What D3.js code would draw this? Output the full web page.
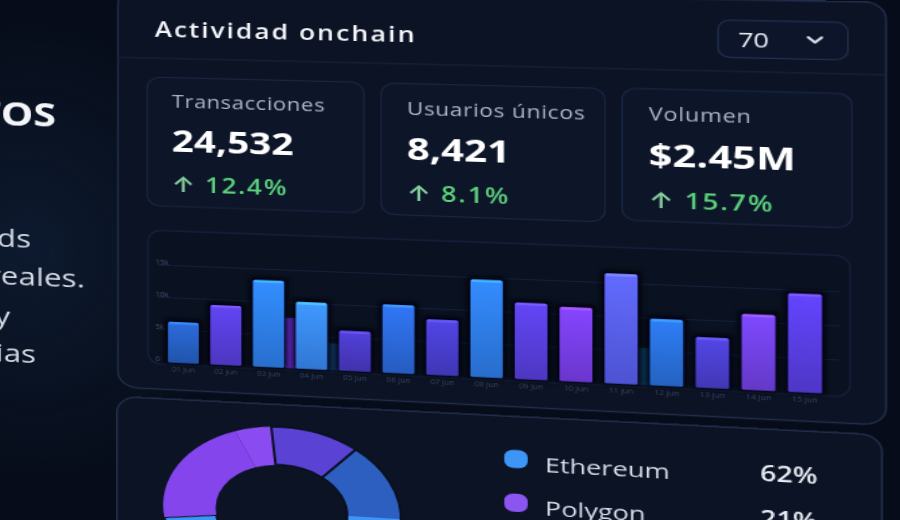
<!DOCTYPE html>
<html><head><meta charset="utf-8">
<script src="https://cdn.jsdelivr.net/npm/d3@7"></script>
<style>
html,body{margin:0;padding:0;background:#060c19;overflow:hidden;width:900px;height:520px;font-family:"Open Sans",Inter,sans-serif;}
#wrap{position:absolute;left:0;top:0;width:692px;height:520px;transform-origin:0 0;}
#stage{position:absolute;left:0;top:0;width:692px;height:520px;}
#board{position:absolute;left:0;top:0;width:692px;height:520px;}
svg{overflow:visible;display:block;}
</style></head><body>
<div id="wrap"><div id="stage"><div id="board"></div></div></div>
<script>
// ---------- data ----------
const categorias = ["01 jun","02 jun","03 jun","04 jun","05 jun","06 jun","07 jun","08 jun","09 jun","10 jun","11 jun","12 jun","13 jun","14 jun","15 jun"];
const transacciones = [6300, 9200, 13300, 10200, 6100, 10400, 8400, 14700, 11500, 11100, 16400, 9900, 7500, 11200, 14500];
const previo = [null, null, 7700, 4100, null, null, null, null, null, null, 5500, null, null, null, null];
const yTicks = [0, 5000, 10000, 15000];
const yTickLabels = ["0", "5k", "10k", "15k"];
const kpiLabels = ["Transacciones", "Usuarios únicos", "Volumen"];
const kpiValues = ["24,532", "8,421", "$2.45M"];
const kpiChanges = ["12.4%", "8.1%", "15.7%"];
const redes = ["Ethereum", "Polygon", "Otros", "Arbitrum"];
const cuota = [62, 21, 5, 12];
const periodo = "70";
const tituloPanel = "Actividad onchain";
const tituloIzq = "DATOS";
const lineasIzq = ["Potentes dashboards", "con datos reales.", "Analiza métricas y", "compara tendencias"];

// ---------- styles ----------
const barColors = ["#2763c9","#5a3fe0","#2f82f2","#3a8cf7","#4b3bc9","#2d6ce2","#4a3fd3","#2f80f0","#5a40e2","#7b3ff0","#5a62f5","#2a73e2","#4c40d3","#7443ea","#5b3fe8"];
const prevColors = {2:"#6a2fd6", 3:"#0f3c6a", 10:"#0e3b60"};
const redColors = ["url(#ethGrad)", "#8446ec", "#8a4cf0", "#5a42d4"];
const legendDot = ["#3d95f5", "#8b55f2", "#8a4cf0", "#5a42d4"];

// ---------- view (perspective of the photographed screen) ----------
const S = 1.3, PX = 450 / S, PY = -225, PERSP = 1000, ANGD = 5.857;
const ANG = ANGD * Math.PI / 180, K = Math.sin(ANG) / PERSP, C = Math.cos(ANG);
document.getElementById('wrap').style.transform = `scaleX(${S})`;
const st = document.getElementById('stage').style;
st.perspective = PERSP + 'px'; st.perspectiveOrigin = `${PX}px ${PY}px`;
const bd = document.getElementById('board').style;
bd.transformOrigin = `${PX}px 0px`; bd.transform = `rotateY(${-ANGD}deg)`;
// screen point -> board point
function inv(X, Y) { const xp = X / S, w = xp - PX, u = w / (C + w * K), f = 1 - u * K; return [PX + u, (Y - PY) * f + PY]; }

const svg = d3.select('#board').append('svg').attr('width', 692).attr('height', 520);
const defs = svg.append('defs');
const rg = defs.append('radialGradient').attr('id', 'glow');
rg.append('stop').attr('offset', '0%').attr('stop-color', '#12243f').attr('stop-opacity', 0.55);
rg.append('stop').attr('offset', '100%').attr('stop-color', '#12243f').attr('stop-opacity', 0);
defs.append('filter').attr('id', 'blur').attr('x', '-50%').attr('y', '-50%').attr('width', '200%').attr('height', '200%')
  .append('feGaussianBlur').attr('stdDeviation', 2.2);

// background glow
{ const [gx, gy] = inv(30, 250); svg.append('ellipse').attr('cx', gx).attr('cy', gy).attr('rx', 170).attr('ry', 240).attr('fill', 'url(#glow)'); }

// ---------- left column text ----------
{ const [tx, ty] = inv(56, 127);
  svg.append('text').attr('x', tx).attr('y', ty).attr('text-anchor', 'end').attr('font-size', 34).attr('font-weight', 700).attr('fill', '#f3f5f9').text(tituloIzq);
  const ends = [[31, 248], [85, 288], [10, 325], [36, 363]];
  lineasIzq.forEach((t, i) => { const [lx, ly] = inv(ends[i][0], ends[i][1]);
    svg.append('text').attr('x', lx).attr('y', ly).attr('text-anchor', 'end').attr('font-size', 26).attr('font-weight', 500).attr('fill', '#d3d9e4').text(t); });
}

// ---------- main panel ----------
const [p0x, p0y] = inv(118, -11);
const p1x = inv(886, 300)[0];
const p1y = (inv(200, 391)[1] + inv(840, 423)[1]) / 2;
svg.append('rect').attr('x', p0x).attr('y', p0y).attr('width', p1x - p0x).attr('height', p1y - p0y).attr('rx', 16)
  .attr('fill', '#0b1324').attr('stroke', '#212e4a').attr('stroke-width', 1.4);
{ const [hx, hy] = inv(155, 37);
  svg.append('text').attr('x', hx).attr('y', hy).attr('font-size', 21).attr('font-weight', 600).attr('letter-spacing', 1.6).attr('fill', '#f2f4f8').text(tituloPanel);
  const sy = (inv(118, 58)[1] + inv(880, 74)[1]) / 2;
  svg.append('line').attr('x1', p0x).attr('x2', p1x).attr('y1', sy).attr('y2', sy).attr('stroke', '#18233a').attr('stroke-width', 1.2);
  const [d0x, d0y] = inv(718, 20), [d1x, d1y] = inv(848, 60);
  svg.append('rect').attr('x', d0x).attr('y', d0y).attr('width', d1x - d0x).attr('height', d1y - d0y).attr('rx', 9)
    .attr('fill', '#0c1529').attr('stroke', '#223152').attr('stroke-width', 1.2);
  const [vx, vy] = inv(738, 47);
  svg.append('text').attr('x', vx).attr('y', vy).attr('font-size', 20).attr('font-weight', 500).attr('fill', '#e9edf4').text(periodo);
  const [cx, cy] = inv(815, 40);
  svg.append('path').attr('d', `M${cx - 5},${cy - 2.5}L${cx},${cy + 2.5}L${cx + 5},${cy - 2.5}`).attr('fill', 'none')
    .attr('stroke', '#dfe4ee').attr('stroke-width', 2.2).attr('stroke-linecap', 'round').attr('stroke-linejoin', 'round');
}

// ---------- KPI cards ----------
const cardTL = [[147, 77], [381, 83], [622, 88]], cardBR = [[364, 213], [605, 222], [852, 228]];
{ const c1 = inv(147, 77);
  const offL = inv(172, 108), offV = inv(171, 152), offC = inv(172, 192);
  const dx = offL[0] - c1[0], dyL = offL[1] - c1[1], dyV = offV[1] - c1[1], dyC = offC[1] - c1[1];
  kpiLabels.forEach((lab, i) => {
    const [ax, ay] = inv(cardTL[i][0], cardTL[i][1]), [bx, by] = inv(cardBR[i][0], cardBR[i][1]);
    const g = svg.append('g');
    g.append('rect').attr('x', ax).attr('y', ay).attr('width', bx - ax).attr('height', by - ay).attr('rx', 11)
      .attr('fill', '#0d1629').attr('stroke', '#1a2641').attr('stroke-width', 1.2);
    g.append('text').attr('x', ax + dx).attr('y', ay + dyL).attr('font-size', 17.5).attr('letter-spacing', 0.5).attr('fill', '#aab4c9').text(lab);
    g.append('text').attr('x', ax + dx).attr('y', ay + dyV).attr('font-size', 31).attr('font-weight', 700).attr('fill', '#ffffff').text(kpiValues[i]);
    const t = g.append('text').attr('x', ax + dx).attr('y', ay + dyC).attr('font-size', 21).attr('font-weight', 600).attr('letter-spacing', 1.3);
    t.append('tspan').attr('fill', '#86cf9c').text('↑ ');
    t.append('tspan').attr('fill', '#5ad07a').text(kpiChanges[i]);
  });
}

// ---------- bar chart ----------
{ const [f0x, f0y] = inv(148, 230), [f1x, f1y] = inv(850, 397);
  svg.append('rect').attr('x', f0x).attr('y', f0y).attr('width', f1x - f0x).attr('height', f1y - f0y).attr('rx', 11)
    .attr('fill', '#0a1222').attr('stroke', '#172340').attr('stroke-width', 1.1);
  const baseY = inv(182, 363)[1], topY = inv(158, 265)[1];
  const y = d3.scaleLinear().domain([0, 15000]).range([baseY, topY]);
  const x = d3.scaleBand().domain(categorias).range([inv(168, 363)[0], inv(822, 393)[0]]).paddingInner(0.27).paddingOuter(0);
  const bw = x.bandwidth();
  const grid = svg.append('g');
  grid.selectAll('line').data(yTicks.slice(1)).join('line')
    .attr('x1', f0x + 8).attr('x2', f1x - 8).attr('y1', d => y(d)).attr('y2', d => y(d))
    .attr('stroke', '#16223c').attr('stroke-width', 1);
  const axL = svg.append('g').attr('transform', `translate(${f0x + 6},0)`)
    .call(d3.axisLeft(y).tickValues(yTicks).tickFormat((d, i) => yTickLabels[i]).tickSize(0).tickPadding(0));
  axL.select('.domain').remove();
  axL.selectAll('text').attr('text-anchor', 'start').attr('dy', '-0.15em').attr('fill', '#44526f').attr('font-size', 6.5).attr('font-family', 'Open Sans');
  const axB = svg.append('g').attr('transform', `translate(0,${baseY + 5})`)
    .call(d3.axisBottom(x).tickSize(0).tickPadding(0));
  axB.select('.domain').remove();
  axB.selectAll('text').attr('fill', '#36445f').attr('font-size', 6.5).attr('font-family', 'Open Sans');

  barColors.forEach((c, i) => {
    const lg = defs.append('linearGradient').attr('id', 'bg' + i).attr('x1', 0).attr('y1', 0).attr('x2', 0).attr('y2', 1);
    lg.append('stop').attr('offset', '0%').attr('stop-color', d3.color(c).brighter(0.25));
    lg.append('stop').attr('offset', '100%').attr('stop-color', d3.color(c).darker(0.45));
  });
  const prevIdx = previo.map((v, i) => i).filter(i => previo[i] != null);
  svg.append('g').selectAll('rect').data(prevIdx).join('rect')
    .attr('x', i => x(categorias[i]) + bw + 0.5).attr('width', bw * 0.5)
    .attr('y', i => y(previo[i])).attr('height', i => baseY - y(previo[i]))
    .attr('fill', i => prevColors[i]);
  svg.append('g').selectAll('rect').data(transacciones).join('rect')
    .attr('x', (d, i) => x(categorias[i]) - 2.5).attr('width', bw + 5)
    .attr('y', d => y(d) - 3).attr('height', d => baseY - y(d) + 4)
    .attr('fill', '#01030a').attr('opacity', 0.95).attr('filter', 'url(#blur)');
  svg.append('g').selectAll('rect').data(transacciones).join('rect')
    .attr('x', (d, i) => x(categorias[i])).attr('width', bw)
    .attr('y', d => y(d)).attr('height', d => baseY - y(d))
    .attr('rx', 1.5).attr('fill', (d, i) => `url(#bg${i})`);
  svg.append('g').selectAll('rect').data(transacciones).join('rect')
    .attr('x', (d, i) => x(categorias[i]) + 1).attr('width', bw - 2)
    .attr('y', d => y(d)).attr('height', 2.5).attr('rx', 1)
    .attr('fill', (d, i) => d3.color(barColors[i]).brighter(1.1)).attr('opacity', 0.8);
}

// ---------- lower panel: donut + legend ----------
{ const q0x = inv(117, 399)[0], q1x = inv(882, 440)[0];
  const q0y = (inv(117, 399)[1] + inv(877, 432)[1]) / 2;
  svg.append('rect').attr('x', q0x).attr('y', q0y).attr('width', q1x - q0x).attr('height', 300).attr('rx', 16)
    .attr('fill', '#0b1324').attr('stroke', '#212e4a').attr('stroke-width', 1.4);
  const [cx, cy] = inv(281, 512);
  const R = cy - inv(281, 427)[1], r = cy - inv(281, 465)[1];
  const sx = ((inv(400, 510)[0] - inv(162, 515)[0]) / 2) / R;
  const eg = defs.append('linearGradient').attr('id', 'ethGrad').attr('gradientUnits', 'userSpaceOnUse')
    .attr('x1', 0).attr('y1', -R).attr('x2', 0).attr('y2', R);
  eg.append('stop').attr('offset', '50%').attr('stop-color', '#2c5fbf');
  eg.append('stop').attr('offset', '50%').attr('stop-color', '#3d95f5');
  const a0 = 2 * Math.PI * 0.107;
  const pie = d3.pie().sort(null).value(d => d).startAngle(a0).endAngle(a0 + 2 * Math.PI);
  const arc = d3.arc().innerRadius(r).outerRadius(R);
  const dg = svg.append('g').attr('transform', `translate(${cx},${cy}) scale(${sx},1)`);
  dg.selectAll('path').data(pie(cuota)).join('path').attr('d', arc)
    .attr('fill', (d, i) => redColors[i]).attr('stroke', (d, i) => (i === 1 || i === 2) ? 'none' : '#0a1020')
    .attr('stroke-width', 2).attr('vector-effect', 'non-scaling-stroke');

  const [dx0, dy0] = inv(516, 459);
  const step = inv(518, 503)[1] - dy0;
  const tx = inv(545, 472)[0], px = inv(760, 481)[0];
  const tyOff = inv(545, 472)[1] - dy0, pyOff = inv(760, 481)[1] - dy0;
  redes.forEach((n, i) => {
    const yy = dy0 + i * step;
    svg.append('rect').attr('x', dx0 - 9).attr('y', yy - 9).attr('width', 18).attr('height', 18).attr('rx', 7).attr('fill', legendDot[i]);
    svg.append('text').attr('x', tx).attr('y', yy + tyOff).attr('font-size', 20.5).attr('fill', '#d6dce8').text(n);
    svg.append('text').attr('x', px).attr('y', yy + pyOff).attr('font-size', 21).attr('font-weight', 600).attr('fill', '#e6eaf2').text(cuota[i] + '%');
  });
}
</script>
</body></html>
